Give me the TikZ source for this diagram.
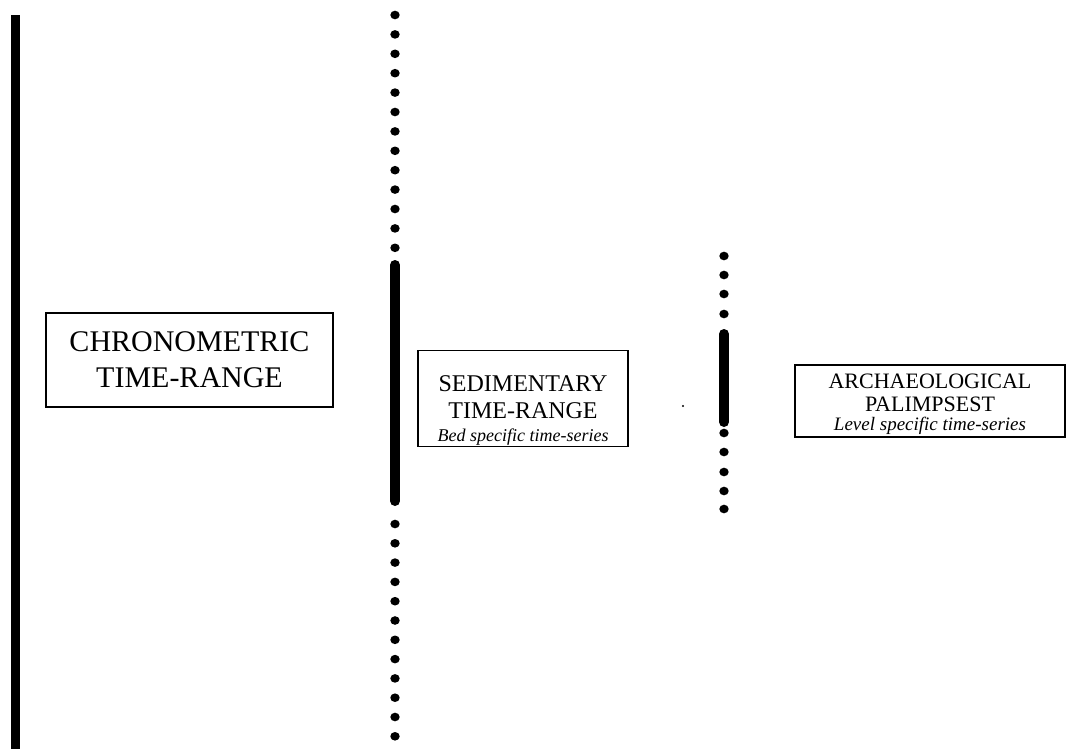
\documentclass[tikz,border=0pt]{standalone}
\usepackage{fontspec}
\setmainfont{Liberation Serif}
\begin{document}
\begin{tikzpicture}[x=1pt,y=-1pt,
  framebox/.style={draw=black,line width=1.2pt,inner sep=0pt},
  label/.style={inner sep=0pt,align=center},
  dotmark/.style={fill=black},
  barline/.style={line width=10pt,line cap=round}]
\useasboundingbox[fill=white] (0,0) rectangle (1067,749);

% left solid bar
\fill (11,15) rectangle (20,749);

% middle line: dots, solid segment, dots
\foreach \k in {0,...,12} \fill[dotmark] (395,{15+19.4*\k}) ellipse (4.7 and 4.3);
\draw[barline] (395,265) -- (395,501);
\foreach \k in {0,...,11} \fill[dotmark] (395,{524+19.3*\k}) ellipse (4.7 and 4.3);

% right line: dots, solid segment, dots
\foreach \y in {256,275,294,314} \fill[dotmark] (724,\y) ellipse (4.7 and 4.3);
\draw[barline] (724,334) -- (724,422);
\foreach \y in {433,452,472,491,509} \fill[dotmark] (724,\y) ellipse (4.7 and 4.3);

% small speck
\fill (683,406) circle (1.2);

% frames
\node[framebox,minimum width=287,minimum height=94] (chrono) at (189.5,360) {};
\node[framebox,minimum width=210,minimum height=96] (sedim) at (523,398.5) {};
\node[framebox,minimum width=270,minimum height=72] (arch) at (930,401) {};

% labels
\node[label,font=\fontsize{30}{36}\selectfont] (chronotext) at (chrono.center)
  {CHRONOMETRIC\\TIME-RANGE};
\node[label,font=\fontsize{24}{27}\selectfont] (sedimtext) at (523,410)
  {SEDIMENTARY\\TIME-RANGE\\[-4pt]
   {\fontsize{18}{20}\selectfont\itshape Bed specific time-series}};
\node[label,font=\fontsize{22}{23}\selectfont] (archtext) at (930,404)
  {ARCHAEOLOGICAL\\PALIMPSEST\\[-4pt]
   {\fontsize{19}{20}\selectfont\itshape Level specific time-series}};
\end{tikzpicture}
\end{document}
